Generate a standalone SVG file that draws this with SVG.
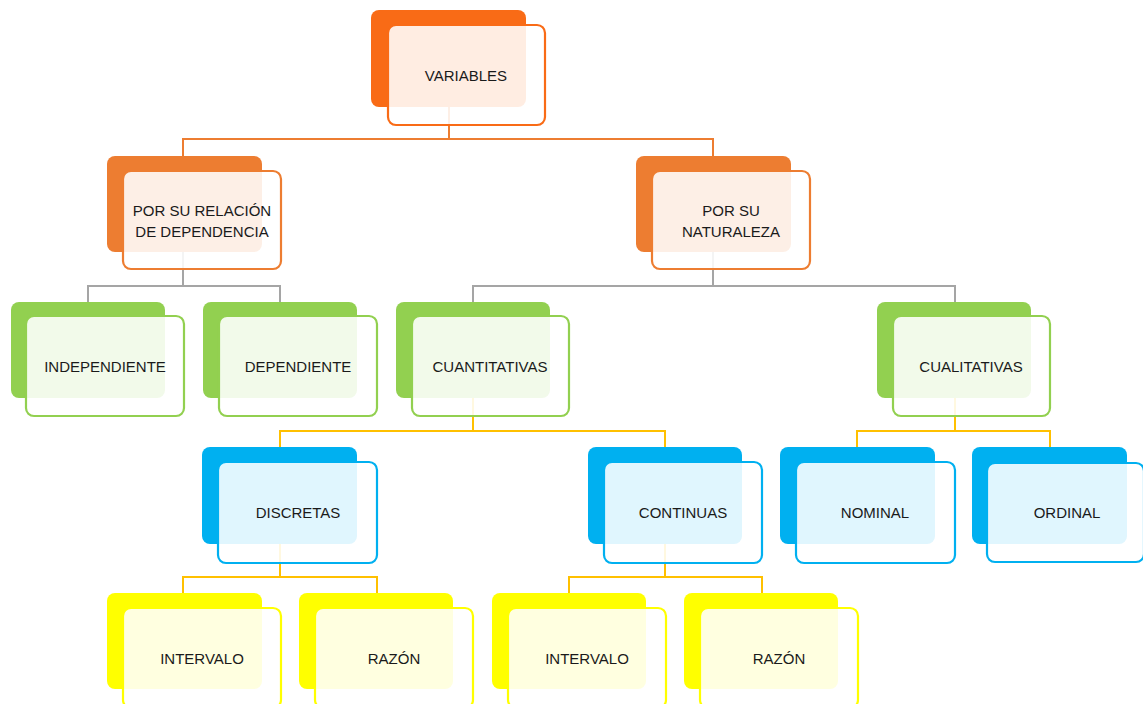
<svg xmlns="http://www.w3.org/2000/svg" width="1143" height="704" viewBox="0 0 1143 704">
  <style>
    .back { stroke: none; }
    .front { fill: #ffffff; fill-opacity: 0.88; stroke-width: 2.2; }
    .lbl { font-family: "Liberation Sans", Arial, sans-serif; font-size: 15px; fill: #1a1a1a; text-anchor: middle; dominant-baseline: central; }
    .c1 { fill: #F96B16; } .s1 { stroke: #F96B16; }
    .c2 { fill: #ED7D31; } .s2 { stroke: #ED7D31; }
    .cg { fill: #92D050; } .sg { stroke: #92D050; }
    .cb { fill: #00B0F0; } .sb { stroke: #00B0F0; }
    .cy { fill: #FFFF00; } .sy { stroke: #FFFF00; }
    .conn { fill: none; stroke-width: 2; }
  </style>

  <!-- connectors (drawn beneath the nodes) -->
  <g id="connectors">
    <path class="conn" stroke="#ED7D31" d="M449 107 V139 M183 156 V139 H713 V156"/>
    <path class="conn" stroke="#A5A5A5" d="M183 252 V286 M88 302 V286 H280 V302"/>
    <path class="conn" stroke="#A5A5A5" d="M713 252 V286 M473 302 V286 H955 V302"/>
    <path class="conn" stroke="#FFC000" d="M473 398 V431 M280 447 V431 H665 V447"/>
    <path class="conn" stroke="#FFC000" d="M955 398 V431 M857 447 V431 H1050 V447"/>
    <path class="conn" stroke="#FFC000" d="M280 544 V577 M183 593 V577 H377 V593"/>
    <path class="conn" stroke="#FFC000" d="M665 544 V577 M569 593 V577 H762 V593"/>
  </g>

  <!-- level 1 -->
  <g id="variables">
    <rect class="back c1" x="371" y="10" width="155" height="97" rx="8"/>
    <rect class="front s1" x="388" y="25" width="157" height="100" rx="8"/>
    <text class="lbl" x="466" y="75">VARIABLES</text>
  </g>

  <!-- level 2 -->
  <g id="relacion">
    <rect class="back c2" x="107" y="156" width="155" height="96" rx="8"/>
    <rect class="front s2" x="123" y="171" width="158" height="98" rx="8"/>
    <text class="lbl" x="202" y="210">POR SU RELACIÓN</text>
    <text class="lbl" x="202" y="231">DE DEPENDENCIA</text>
  </g>
  <g id="naturaleza">
    <rect class="back c2" x="636" y="156" width="155" height="96" rx="8"/>
    <rect class="front s2" x="652" y="171" width="158" height="98" rx="8"/>
    <text class="lbl" x="731" y="210">POR SU</text>
    <text class="lbl" x="731" y="231">NATURALEZA</text>
  </g>

  <!-- level 3 -->
  <g id="independiente">
    <rect class="back cg" x="11" y="302" width="154" height="96" rx="8"/>
    <rect class="front sg" x="26" y="316" width="158" height="100" rx="8"/>
    <text class="lbl" x="105" y="366">INDEPENDIENTE</text>
  </g>
  <g id="dependiente">
    <rect class="back cg" x="203" y="302" width="154" height="96" rx="8"/>
    <rect class="front sg" x="219" y="316" width="158" height="100" rx="8"/>
    <text class="lbl" x="298" y="366">DEPENDIENTE</text>
  </g>
  <g id="cuantitativas">
    <rect class="back cg" x="396" y="302" width="154" height="96" rx="8"/>
    <rect class="front sg" x="412" y="316" width="157" height="100" rx="8"/>
    <text class="lbl" x="490" y="366">CUANTITATIVAS</text>
  </g>
  <g id="cualitativas">
    <rect class="back cg" x="877" y="302" width="154" height="96" rx="8"/>
    <rect class="front sg" x="893" y="316" width="157" height="100" rx="8"/>
    <text class="lbl" x="971" y="366">CUALITATIVAS</text>
  </g>

  <!-- level 4 -->
  <g id="discretas">
    <rect class="back cb" x="202" y="447" width="155" height="97" rx="8"/>
    <rect class="front sb" x="218" y="462" width="159" height="101" rx="8"/>
    <text class="lbl" x="298" y="512">DISCRETAS</text>
  </g>
  <g id="continuas">
    <rect class="back cb" x="588" y="447" width="154" height="97" rx="8"/>
    <rect class="front sb" x="604" y="462" width="158" height="101" rx="8"/>
    <text class="lbl" x="683" y="512">CONTINUAS</text>
  </g>
  <g id="nominal">
    <rect class="back cb" x="780" y="447" width="155" height="97" rx="8"/>
    <rect class="front sb" x="796" y="462" width="159" height="101" rx="8"/>
    <text class="lbl" x="875" y="512">NOMINAL</text>
  </g>
  <g id="ordinal">
    <rect class="back cb" x="972" y="447" width="155" height="97" rx="8"/>
    <rect class="front sb" x="987" y="463" width="157" height="99" rx="8"/>
    <text class="lbl" x="1067" y="512">ORDINAL</text>
  </g>

  <!-- level 5 -->
  <g id="intervalo-discretas">
    <rect class="back cy" x="107" y="593" width="155" height="96" rx="8"/>
    <rect class="front sy" x="123" y="608" width="158" height="100" rx="8"/>
    <text class="lbl" x="202" y="658">INTERVALO</text>
  </g>
  <g id="razon-discretas">
    <rect class="back cy" x="299" y="593" width="154" height="96" rx="8"/>
    <rect class="front sy" x="315" y="608" width="158" height="100" rx="8"/>
    <text class="lbl" x="394" y="658">RAZÓN</text>
  </g>
  <g id="intervalo-continuas">
    <rect class="back cy" x="492" y="593" width="154" height="96" rx="8"/>
    <rect class="front sy" x="508" y="608" width="158" height="100" rx="8"/>
    <text class="lbl" x="587" y="658">INTERVALO</text>
  </g>
  <g id="razon-continuas">
    <rect class="back cy" x="684" y="593" width="154" height="96" rx="8"/>
    <rect class="front sy" x="700" y="608" width="158" height="100" rx="8"/>
    <text class="lbl" x="779" y="658">RAZÓN</text>
  </g>
</svg>
